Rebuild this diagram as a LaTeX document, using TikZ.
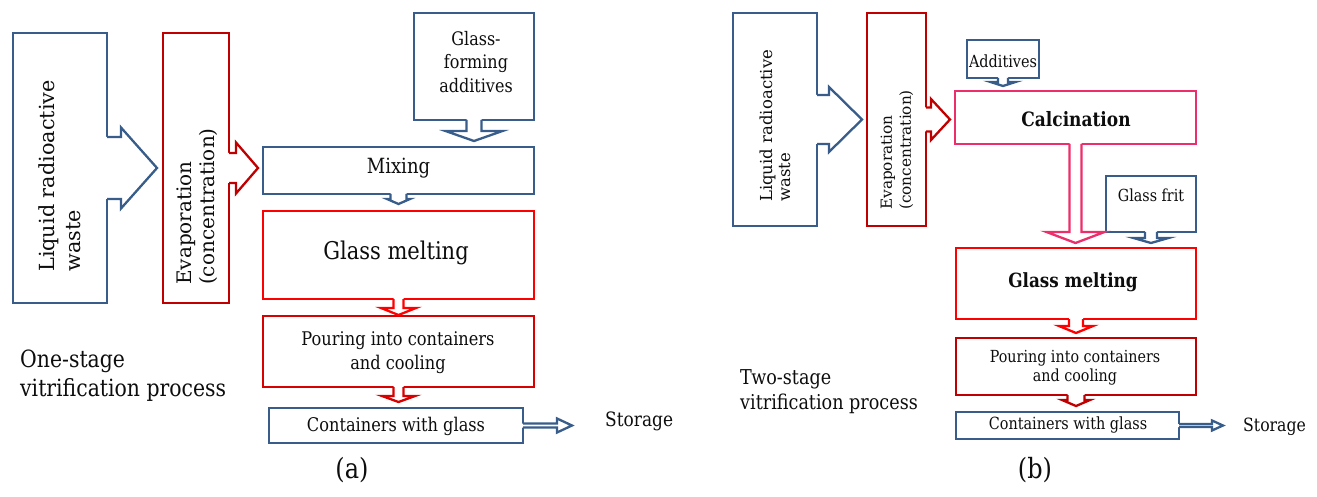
\documentclass[tikz,border=0pt]{standalone}
\usepackage{fontspec}
\setmainfont{DejaVu Serif}
\newfontfamily\hfont{DejaVu Serif}[FakeStretch=0.86]
\usetikzlibrary{calc}
\definecolor{blueC}{HTML}{385D8A}
\definecolor{redC}{HTML}{FF0000}
\definecolor{dredC}{HTML}{C00000}
\definecolor{mredC}{HTML}{D80000}
\definecolor{pinkC}{HTML}{EC2E6A}
\definecolor{txtC}{HTML}{0D0D0D}
\newcommand{\fs}[2]{\hfont\fontsize{\fpeval{#1/0.86}}{#2}\selectfont}
\newcommand{\vfs}[2]{\fontsize{#1}{#2}\selectfont}
% right block arrow: color, from, to, half shaft, half head, head length, gap
\newcommand{\RArr}[7]{%
  \fill[white] let \p1=(#2.east), \p2=(#3.west) in
    (\x1-2.5pt,\y1+#4pt) -- (\x2-#7pt-#6pt,\y1+#4pt) -- (\x2-#7pt-#6pt,\y1+#5pt) -- (\x2-#7pt,\y1)
    -- (\x2-#7pt-#6pt,\y1-#5pt) -- (\x2-#7pt-#6pt,\y1-#4pt) -- (\x1-2.5pt,\y1-#4pt) -- cycle;
  \draw[draw=#1, arrline] let \p1=(#2.east), \p2=(#3.west) in
    (\x1,\y1+#4pt) -- (\x2-#7pt-#6pt,\y1+#4pt) -- (\x2-#7pt-#6pt,\y1+#5pt) -- (\x2-#7pt,\y1)
    -- (\x2-#7pt-#6pt,\y1-#5pt) -- (\x2-#7pt-#6pt,\y1-#4pt) -- (\x1,\y1-#4pt);
}
% down block arrow: color, from, to, half shaft, half head, head length, gap
\newcommand{\DArr}[7]{%
  \fill[white] let \p1=(#2.south), \p2=(#3.north) in
    (\x1-#4pt,\y1+2.5pt) -- (\x1-#4pt,\y2+#7pt+#6pt) -- (\x1-#5pt,\y2+#7pt+#6pt) -- (\x1,\y2+#7pt)
    -- (\x1+#5pt,\y2+#7pt+#6pt) -- (\x1+#4pt,\y2+#7pt+#6pt) -- (\x1+#4pt,\y1+2.5pt) -- cycle;
  \draw[draw=#1, arrline] let \p1=(#2.south), \p2=(#3.north) in
    (\x1-#4pt,\y1) -- (\x1-#4pt,\y2+#7pt+#6pt) -- (\x1-#5pt,\y2+#7pt+#6pt) -- (\x1,\y2+#7pt)
    -- (\x1+#5pt,\y2+#7pt+#6pt) -- (\x1+#4pt,\y2+#7pt+#6pt) -- (\x1+#4pt,\y1);
}
\tikzset{
  box/.style={draw=#1, line width=2.6pt, outer sep=0pt, inner sep=0pt},
  arrline/.style={line width=2.3pt, line join=miter},
  txt/.style={inner sep=0pt, align=center, text=txtC},
  vtxt/.style={inner sep=0pt, align=left, text=txtC, rotate=90, anchor=west},
}
\begin{document}
\begin{tikzpicture}[x=1pt,y=-1pt]
\useasboundingbox (0,0) rectangle (1317,497);
% ---------- (a) boxes ----------
\node[box=blueC, minimum width=94pt, minimum height=270pt] (liqA) at (60,168) {};
\node[box=dredC, minimum width=66pt, minimum height=270pt] (evapA) at (196,168) {};
\node[box=blueC, minimum width=120pt, minimum height=107pt] (gfaA) at (474,66.5) {};
\node[box=blueC, minimum width=271pt, minimum height=47pt] (mixA) at (398.5,170.5) {};
\node[box=redC, minimum width=271pt, minimum height=88pt] (meltA) at (398.5,255) {};
\node[box=mredC, minimum width=271pt, minimum height=71pt] (pourA) at (398.5,351.5) {};
\node[box=blueC, minimum width=254pt, minimum height=35pt] (contA) at (396,425.5) {};
\node[txt, anchor=west, font=\fs{17}{20}] (stA) at (605,421) {Storage};
% ---------- (a) arrows ----------
\RArr{blueC}{liqA}{evapA}{31}{40.5}{36}{6}
\RArr{dredC}{evapA}{mixA}{15}{25.5}{22}{5}
\DArr{blueC}{gfaA}{mixA}{7.5}{28.5}{10}{6}
\DArr{blueC}{mixA}{meltA}{8}{11.5}{5}{7}
\DArr{redC}{meltA}{pourA}{5}{17.5}{7}{1}
\DArr{mredC}{pourA}{contA}{5}{16.5}{6}{6}
\RArr{blueC}{contA}{stA}{2}{7}{15}{33}
% ---------- (a) texts ----------
\node[vtxt, font=\vfs{20.8}{26}] (liqAt) at (60,272) {Liquid radioactive\\waste};
\node[vtxt, font=\vfs{20}{23}] (evapAt) at (197,285) {Evaporation\\(concentration)};
\node[txt, font=\fs{16}{23.5}] (gfaAt) at (476,62) {Glass-\\forming\\additives};
\node[txt, font=\fs{18}{20}] (mixAt) at (398.5,168) {Mixing};
\node[txt, font=\fs{21}{24}] (meltAt) at (396,253) {Glass melting};
\node[txt, font=\fs{16.2}{24}] (pourAt) at (398,353) {Pouring into containers\\and cooling};
\node[txt, font=\fs{16.2}{18}] (contAt) at (396,426) {Containers with glass};
\node[txt, anchor=west, align=left, font=\fs{20.4}{29}] (oneA) at (20,376) {One-stage\\vitrification process};
\node[txt, font=\fs{24}{28}] (capA) at (352,470) {(a)};
% ---------- (b) boxes ----------
\node[box=blueC, minimum width=84pt, minimum height=213pt] (liqB) at (775,119.5) {};
\node[box=dredC, minimum width=59pt, minimum height=213pt] (evapB) at (896.5,119.5) {};
\node[box=blueC, minimum width=72pt, minimum height=38pt] (addB) at (1003,59) {};
\node[box=pinkC, minimum width=241pt, minimum height=53pt] (calcB) at (1075.5,117.5) {};
\node[box=blueC, minimum width=90pt, minimum height=56pt] (fritB) at (1151,204) {};
\node[box=redC, minimum width=240pt, minimum height=71pt] (meltB) at (1076,283.5) {};
\node[box=dredC, minimum width=240pt, minimum height=57pt] (pourB) at (1076,366.5) {};
\node[box=blueC, minimum width=223pt, minimum height=27pt] (contB) at (1067.5,425.5) {};
\node[txt, anchor=west, font=\fs{15.7}{18}] (stB) at (1243,427) {Storage};
% ---------- (b) arrows ----------
\RArr{blueC}{liqB}{evapB}{24.5}{32.5}{33}{5}
\RArr{dredC}{evapB}{calcB}{12}{20.5}{19}{5}
\DArr{blueC}{addB}{calcB}{5}{12.5}{4}{5}
\DArr{pinkC}{calcB}{meltB}{6}{29}{11}{5}
\DArr{blueC}{fritB}{meltB}{6}{17.5}{5}{5}
\DArr{redC}{meltB}{pourB}{7}{17}{7}{5}
\DArr{dredC}{pourB}{contB}{8.5}{14}{6}{6}
\RArr{blueC}{contB}{stB}{1.5}{5}{11}{20}
% ---------- (b) texts ----------
\node[vtxt, font=\vfs{16.5}{18}] (liqBt) at (775,202) {Liquid radioactive\\waste};
\node[vtxt, font=\vfs{15.3}{19}] (evapBt) at (897,210) {Evaporation\\(concentration)};
\node[txt, font=\fs{14.4}{16}] (addBt) at (1003,61) {Additives};
\node[txt, font=\bfseries\fs{17}{20}] (calcBt) at (1076,119) {Calcination};
\node[txt, font=\fs{14.3}{16}] (fritBt) at (1151,195) {Glass frit};
\node[txt, font=\bfseries\fs{16.8}{20}] (meltBt) at (1073,282) {Glass melting};
\node[txt, font=\fs{14.3}{19}] (pourBt) at (1075,367.5) {Pouring into containers\\and cooling};
\node[txt, font=\fs{14.4}{17}] (contBt) at (1068,425) {Containers with glass};
\node[txt, anchor=west, align=left, font=\fs{17.6}{25}] (twoB) at (740,392) {Two-stage\\vitrification process};
\node[txt, font=\fs{24}{28}] (capB) at (1035,470) {(b)};
\end{tikzpicture}
\end{document}
